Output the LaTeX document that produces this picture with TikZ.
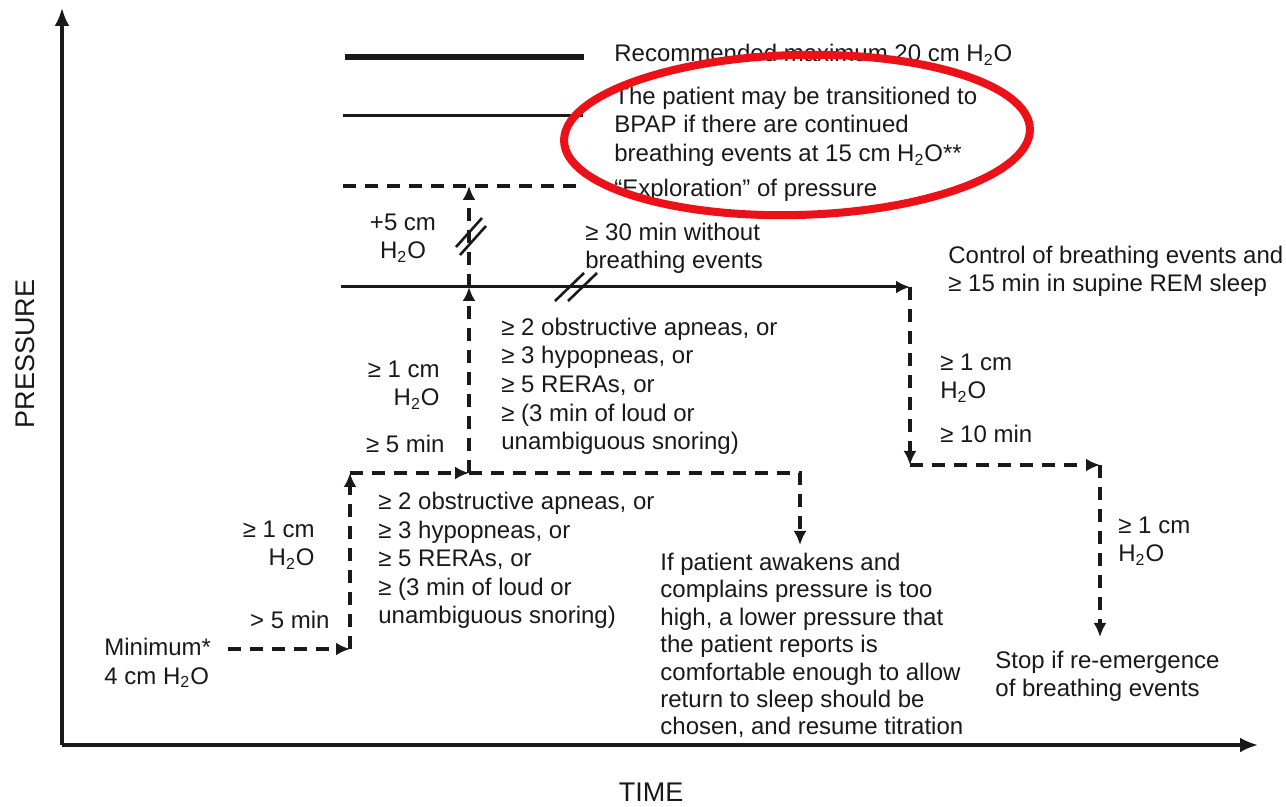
\documentclass[tikz,border=0pt]{standalone}
\usepackage{fontspec}
\setmainfont{Liberation Sans}
\usetikzlibrary{arrows.meta}
\definecolor{ellred}{RGB}{236,16,24}
\definecolor{ink}{RGB}{25,25,25}
\newcommand{\firststrut}{\rule{0pt}{9.5pt}}
\newcommand{\HtwoO}{H\textsubscript{2}O}
\begin{document}
\begin{tikzpicture}[x=0.5pt,y=-0.5pt,
  txt/.style={inner sep=0pt, text=ink, font=\fontsize{12}{14.3}\selectfont, align=left},
  txtr/.style={txt, align=right},
  txtc/.style={txt, align=center},
  axlabel/.style={inner sep=0pt, text=ink, font=\fontsize{13.5}{16}\selectfont},
  axisline/.style={draw=ink, line width=1.6pt, -{Latex[length=9pt,width=7.5pt]}},
  dsh/.style={draw=ink, line width=1.6pt, dash pattern=on 6.5pt off 4.5pt},
  dsharrow/.style={dsh, -{Latex[length=7pt,width=6.5pt]}},
  solidarrow/.style={draw=ink, line width=1.5pt, -{Latex[length=7pt,width=6.5pt]}},
  brk/.style={draw=ink, line width=1.3pt},
  levelthick/.style={draw=ink, line width=3.4pt},
  levelthin/.style={draw=ink, line width=1.5pt},
  ell/.style={draw=ellred, line width=4pt}
]
\useasboundingbox (0,0) rectangle (1286,807);

% axes
\coordinate (O) at (62,745);
\coordinate (Ytop) at (62,8);
\coordinate (Xend) at (1258,745);
\draw[axisline] (O) -- (Ytop);
\draw[axisline] (O) -- (Xend);
\node[axlabel, rotate=90] (ylab) at (25,354) {PRESSURE};
\node[axlabel] (xlab) at (651,792) {TIME};

% level lines
\coordinate (L1a) at (345,57);  \coordinate (L1b) at (584,57);
\coordinate (L2a) at (343,116); \coordinate (L2b) at (583,116);
\coordinate (L3a) at (343,186); \coordinate (L3b) at (583,186);
\draw[levelthick] (L1a) -- (L1b);
\draw[levelthin] (L2a) -- (L2b);
\draw[dsh] (L3a) -- (L3b);

% path coordinates
\coordinate (a1) at (228,649);
\coordinate (a2) at (350,649);
\coordinate (a3) at (350,473);
\coordinate (a4) at (469,473);
\coordinate (a5) at (800,473);
\coordinate (a6) at (800,545);
\coordinate (a7) at (469,287);
\coordinate (a8) at (469,186);
\coordinate (s0) at (341,287);
\coordinate (b1) at (910,287);
\coordinate (b2) at (910,465);
\coordinate (b3) at (1100,465);
\coordinate (b4) at (1100,637);

\draw[dsharrow] (a1) -- (a2);
\draw[dsharrow] (a2) -- (a3);
\draw[dsharrow] (a3) -- (a4);
\draw[dsharrow] (a4) -- (a5) -- (a6);
\draw[dsharrow] (a4) -- (a7);
\draw[dsharrow] (a7) -- (a8);
\draw[solidarrow] (s0) -- (b1);
\draw[dsharrow] (b1) -- (b2);
\draw[dsharrow] (b2) -- (b3);
\draw[dsharrow] (b3) -- (b4);

% break marks
\coordinate (bv1a) at (456,247); \coordinate (bv1b) at (482,218);
\coordinate (bv2a) at (460,255); \coordinate (bv2b) at (486,226);
\draw[brk] (bv1a) -- (bv1b);
\draw[brk] (bv2a) -- (bv2b);
\coordinate (bh1a) at (555,301); \coordinate (bh1b) at (584,273);
\coordinate (bh2a) at (568,301); \coordinate (bh2b) at (597,273);
\draw[brk] (bh1a) -- (bh1b);
\draw[brk] (bh2a) -- (bh2b);

% texts
\node[txt, anchor=base west] (rec) at (614,62) {Recommended maximum 20 cm \HtwoO};
\node[txt, anchor=north west] (bpap) at (614,85) {\firststrut The patient may be transitioned to\\BPAP if there are continued\\breathing events at 15 cm \HtwoO**};
\node[txt, anchor=base west] (expl) at (614,197) {“Exploration” of pressure};
\node[txtc, anchor=north] (plus5) at (403,211) {\firststrut +5 cm\\\HtwoO};
\node[txt, anchor=north west] (thirty) at (585,221) {\firststrut ≥ 30 min without\\breathing events};
\node[txt, anchor=north west] (ctrl) at (948,244) {\firststrut Control of breathing events and\\≥ 15 min in supine REM sleep};
\node[txt, anchor=north west] (crit1) at (501,316) {\firststrut ≥ 2 obstructive apneas, or\\≥ 3 hypopneas, or\\≥ 5 RERAs, or\\≥ (3 min of loud or\\unambiguous snoring)};
\node[txtr, anchor=north east] (cm1) at (440,358) {\firststrut ≥ 1 cm\\\HtwoO};
\node[txt, anchor=base east] (min5) at (445,453) {≥ 5 min};
\node[txt, anchor=north west] (crit2) at (378,490) {\firststrut ≥ 2 obstructive apneas, or\\≥ 3 hypopneas, or\\≥ 5 RERAs, or\\≥ (3 min of loud or\\unambiguous snoring)};
\node[txtr, anchor=north east] (cm2) at (315,518) {\firststrut ≥ 1 cm\\\HtwoO};
\node[txt, anchor=base east] (gt5) at (330,629) {> 5 min};
\node[txt, anchor=north west] (minimum) at (104,636) {\firststrut Minimum*\\4 cm \HtwoO};
\node[txt, anchor=north west, font=\fontsize{12}{13.7}\selectfont] (awak) at (660,551) {\firststrut If patient awakens and\\complains pressure is too\\high, a lower pressure that\\the patient reports is\\comfortable enough to allow\\return to sleep should be\\chosen, and resume titration};
\node[txt, anchor=north west] (cm3) at (940,351) {\firststrut ≥ 1 cm\\\HtwoO};
\node[txt, anchor=base west] (min10) at (940,443) {≥ 10 min};
\node[txt, anchor=north west] (cm4) at (1118,514) {\firststrut ≥ 1 cm\\\HtwoO};
\node[txt, anchor=north west] (stop) at (995,649) {\firststrut Stop if re-emergence\\of breathing events};

% red ellipse
\draw[ell, rotate around={1.5:(797,135)}] (797,135) ellipse [x radius=116.5pt, y radius=40pt];
\end{tikzpicture}
\end{document}
